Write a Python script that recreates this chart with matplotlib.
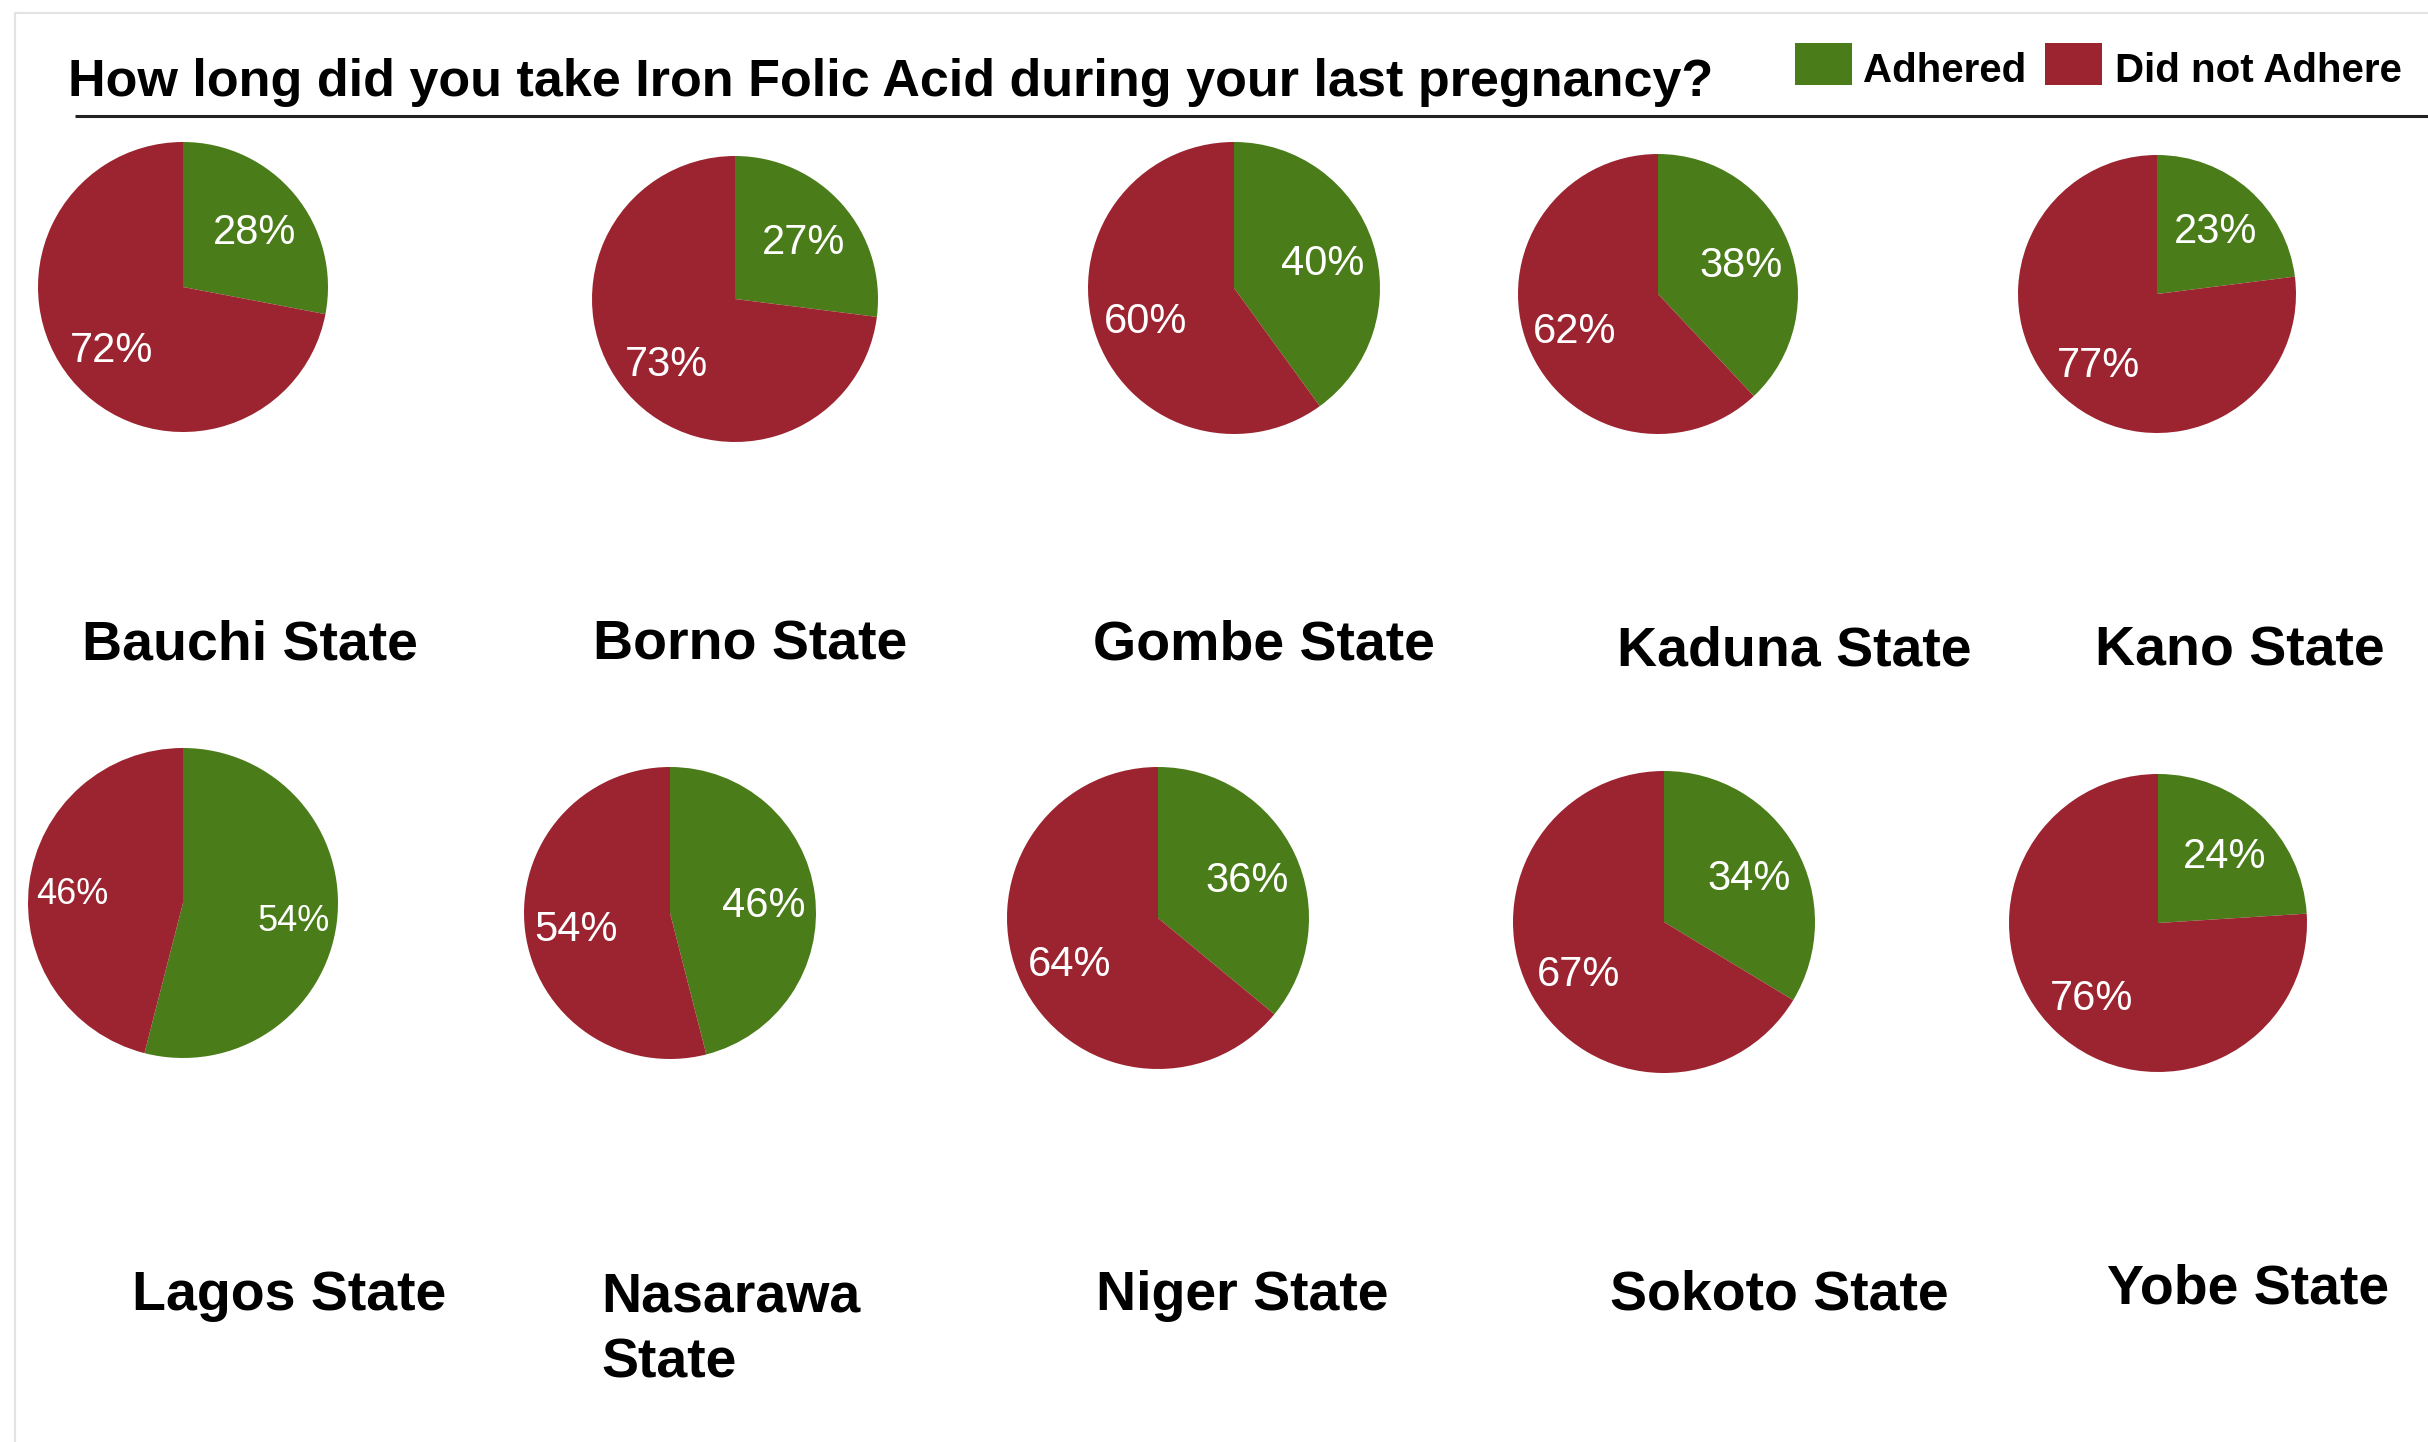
import numpy as np
import matplotlib
matplotlib.use("Agg")
import matplotlib.pyplot as plt
from matplotlib.patches import Rectangle

plt.rcParams['font.family'] = ['Liberation Sans', 'DejaVu Sans']

# Share of respondents per state (%)
states = ['Bauchi State', 'Borno State', 'Gombe State', 'Kaduna State', 'Kano State',
          'Lagos State', 'Nasarawa\nState', 'Niger State', 'Sokoto State', 'Yobe State']
adhered = [28, 27, 40, 38, 23, 54, 46, 36, 34, 24]
did_not_adhere = [72, 73, 60, 62, 77, 46, 54, 64, 67, 76]
series = ['Adhered', 'Did not Adhere']

GREEN = '#4a7c19'
RED = '#9c2430'

W, H = 2428, 1442  # canvas in pixels

# pie centre x, centre y (from top), radius, label distance, label size
pie_layout = [
    (183, 287, 145, 0.64, 30),
    (735, 299, 143, 0.64, 30),
    (1234, 288, 146, 0.64, 30),
    (1658, 294, 140, 0.64, 30),
    (2157, 294, 139, 0.64, 30),
    (183, 903, 155, 0.72, 26),
    (670, 913, 146, 0.65, 30),
    (1158, 918, 151, 0.65, 30),
    (1664, 922, 151, 0.65, 30),
    (2158, 923, 149, 0.65, 30),
]
# state caption left x, baseline y of the last line (from top)
name_layout = [
    (82, 660), (593, 660), (1093, 660), (1617, 666), (2095, 666),
    (132, 1310), (601, 1378), (1096, 1310), (1610, 1310), (2107, 1304),
]

fig = plt.figure(figsize=(W / 100, H / 100), dpi=100)
ax = fig.add_axes([0, 0, 1, 1])

for i in range(len(states)):
    cx, cy, r, dist, fs = pie_layout[i]
    vals = [adhered[i], did_not_adhere[i]]
    wedges, _ = ax.pie(vals, center=(cx, H - cy), radius=r, startangle=90,
                       counterclock=False, colors=[GREEN, RED], frame=True)
    # percentage labels at the middle angle of each wedge
    for w, v in zip(wedges, vals):
        mid = np.deg2rad((w.theta1 + w.theta2) / 2)
        ax.text(cx + dist * r * np.cos(mid), H - cy + dist * r * np.sin(mid) - 5,
                f'{v}%', color='white', fontsize=fs, ha='center', va='center')
    nx, ny = name_layout[i]
    ax.text(nx, H - ny, states[i], fontsize=40, fontweight='bold',
            ha='left', va='baseline', linespacing=1.35)

# title and rule under it
ax.text(68, H - 96, 'How long did you take Iron Folic Acid during your last pregnancy?',
        fontsize=37.5, fontweight='bold', ha='left', va='baseline')
ax.plot([75, W], [H - 116, H - 116], color='#222222', lw=2.2, solid_capstyle='butt')

# legend
for x0, tx, col, lab in [(1795, 1863, GREEN, series[0]), (2045, 2115, RED, series[1])]:
    ax.add_patch(Rectangle((x0, H - 85), 57, 42, facecolor=col, edgecolor='none'))
    ax.text(tx, H - 82, lab, fontsize=29, fontweight='bold', ha='left', va='baseline')

# thin frame round the panel
ax.plot([15, W], [H - 13, H - 13], color='#e3e3e3', lw=1.5)
ax.plot([15, 15], [H - 13, 0], color='#e3e3e3', lw=1.5)

ax.set_xlim(0, W)
ax.set_ylim(0, H)
ax.set_aspect('auto')
ax.axis('off')

fig.savefig('out.png', dpi=100, facecolor='white')
